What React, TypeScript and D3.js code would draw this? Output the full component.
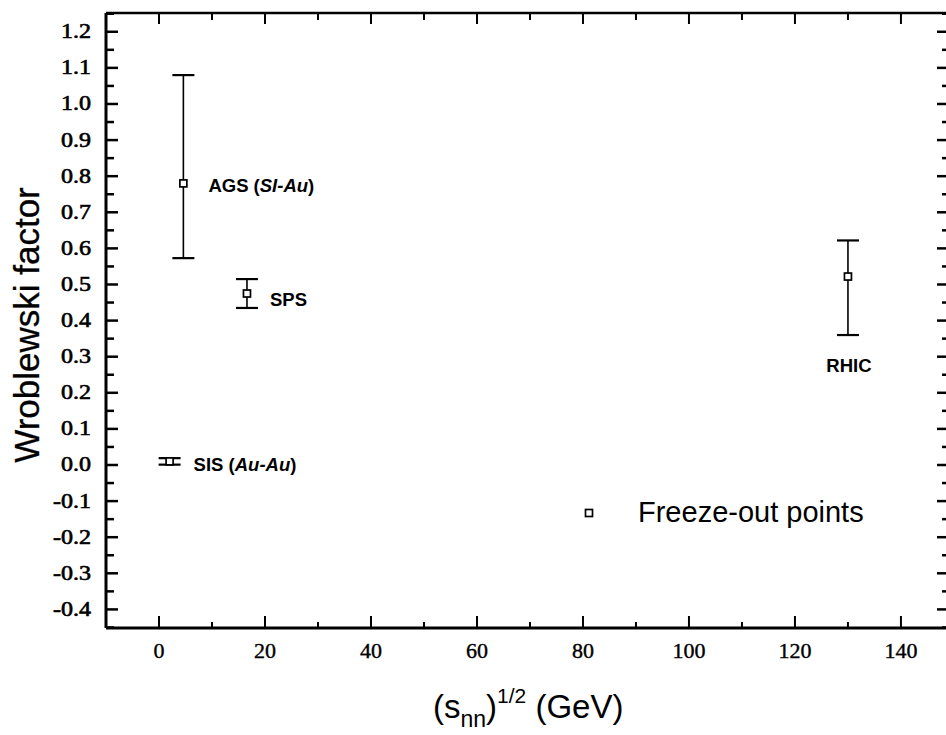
import React from 'react';
import * as d3 from 'd3';

// ---- data ----
const systems = ['SIS', 'AGS', 'SPS', 'RHIC'];
const sqrtS = [2.0, 4.6, 16.6, 130];
const wroblewski = [0.01, 0.78, 0.475, 0.522];
const errLow = [0.001, 0.573, 0.435, 0.36];
const errHigh = [0.019, 1.08, 0.515, 0.622];
// label text segments: [text, italic]
const labelParts: [string, boolean][][] = [
  [['SIS (', false], ['Au-Au', true], [')', false]],
  [['AGS (', false], ['SI-Au', true], [')', false]],
  [['SPS', false]],
  [['RHIC', false]],
];
const xMajorTicks = [0, 20, 40, 60, 80, 100, 120, 140];
const xMinorTicks = [-10, 10, 30, 50, 70, 90, 110, 130];
const yMajorTickLabels = ['-0.4', '-0.3', '-0.2', '-0.1', '0.0', '0.1', '0.2', '0.3', '0.4', '0.5', '0.6', '0.7', '0.8', '0.9', '1.0', '1.1', '1.2'];
const legendLabel = 'Freeze-out points';
const xTitle = ['(s', 'nn', ')', '1/2', ' (GeV)'];
const yTitle = 'Wroblewski factor';

// ---- layout ----
const W = 946, H = 735;
const L = 106, R = 946, T = 13, B = 628;
const labelOffsets = [
  { dx: 24, dy: 10, anchor: 'start' },
  { dx: 25, dy: 9, anchor: 'start' },
  { dx: 23, dy: 12, anchor: 'start' },
  { dx: 1, dy: 95, anchor: 'middle' },
];

export default function App() {
  const x = d3.scaleLinear().domain([-10, 148.5]).range([L, R]);
  const y = d3.scaleLinear().domain([-0.4515, 1.252]).range([B, T]);

  const yMinor: number[] = [];
  for (let i = -9; i <= 25; i++) if (i % 2 !== 0) yMinor.push(i * 0.05);
  const yMajor = yMajorTickLabels.map((s) => +s);
  const topTicks = d3.range(-10, 150, 10);

  const sq = 7;
  const cap = 11;
  const serif = '"Liberation Serif", "Times New Roman", serif';
  const sans = '"Liberation Sans", Arial, Helvetica, sans-serif';

  return (
    <svg width={W} height={H} style={{ position: 'absolute', left: 0, top: 0, background: '#fff' }}>
      <rect x={0} y={0} width={W} height={H} fill="#fff" />
      {/* frame */}
      <line x1={L} y1={T} x2={R} y2={T} stroke="#000" strokeWidth={2.5} />
      <line x1={L} y1={T} x2={L} y2={B} stroke="#000" strokeWidth={3} />
      <line x1={L} y1={B} x2={R} y2={B} stroke="#000" strokeWidth={3} />

      {/* left ticks */}
      {yMajor.map((v, i) => (
        <line key={'lm' + i} x1={L} x2={L + 12} y1={y(v)} y2={y(v)} stroke="#000" strokeWidth={2.5} />
      ))}
      {yMinor.map((v, i) => (
        <line key={'ln' + i} x1={L} x2={L + 8} y1={y(v)} y2={y(v)} stroke="#000" strokeWidth={2.5} />
      ))}
      {/* right ticks */}
      {yMajor.map((v, i) => (
        <line key={'rm' + i} x1={R} x2={R - 9} y1={y(v)} y2={y(v)} stroke="#000" strokeWidth={2.5} />
      ))}
      {yMinor.map((v, i) => (
        <line key={'rn' + i} x1={R} x2={R - 4} y1={y(v)} y2={y(v)} stroke="#000" strokeWidth={2.5} />
      ))}
      {/* bottom ticks */}
      {xMajorTicks.map((v, i) => (
        <line key={'bm' + i} x1={x(v)} x2={x(v)} y1={B} y2={B - 12} stroke="#000" strokeWidth={2} />
      ))}
      {xMinorTicks.map((v, i) => (
        <line key={'bn' + i} x1={x(v)} x2={x(v)} y1={B} y2={B - 6} stroke="#000" strokeWidth={2} />
      ))}
      {/* top ticks */}
      {topTicks.map((v, i) => (
        <line key={'tt' + i} x1={x(v)} x2={x(v)} y1={T} y2={T + (v % 20 === 0 ? 11 : 7)} stroke="#000" strokeWidth={2} />
      ))}

      {/* y tick labels */}
      {yMajorTickLabels.map((s, i) => (
        <text key={'yl' + i} transform={`translate(${L - 15},${y(+s) + 6.5}) scale(1.2,1)`} textAnchor="end"
          fontFamily={serif} fontSize={20} fill="#000" stroke="#000" strokeWidth={0.6}>{s}</text>
      ))}
      {/* x tick labels */}
      {xMajorTicks.map((v, i) => (
        <text key={'xl' + i} x={x(v)} y={B + 30} textAnchor="middle" fontFamily={serif} fontSize={22}
          fill="#000" stroke="#000" strokeWidth={0.4}>{v}</text>
      ))}

      {/* error bars + points */}
      {systems.map((s, i) => {
        const cx = x(sqrtS[i]);
        return (
          <g key={s}>
            <line x1={cx} x2={cx} y1={y(errLow[i])} y2={y(errHigh[i])} stroke="#000" strokeWidth={1.6} />
            <line x1={cx - cap} x2={cx + cap} y1={y(errHigh[i])} y2={y(errHigh[i])} stroke="#000" strokeWidth={2.2} />
            <line x1={cx - cap} x2={cx + cap} y1={y(errLow[i])} y2={y(errLow[i])} stroke="#000" strokeWidth={2.2} />
            <rect x={cx - sq / 2} y={y(wroblewski[i]) - sq / 2} width={sq} height={sq} fill="#fff" stroke="#000" strokeWidth={1.7} />
          </g>
        );
      })}
      {/* point labels */}
      {systems.map((s, i) => {
        const o = labelOffsets[i];
        return (
          <text key={'pl' + s} x={x(sqrtS[i]) + o.dx} y={y(wroblewski[i]) + o.dy} textAnchor={o.anchor as any}
            fontFamily={sans} fontWeight="bold" fontSize={18.5} fill="#000">
            {labelParts[i].map(([t, it], j) => (
              <tspan key={j} fontStyle={it ? 'italic' : 'normal'}>{t}</tspan>
            ))}
          </text>
        );
      })}

      {/* legend */}
      <rect x={585.5} y={509.5} width={sq} height={sq} fill="#fff" stroke="#000" strokeWidth={1.7} />
      <text x={638} y={522} fontFamily={sans} fontSize={29} fill="#000">{legendLabel}</text>

      {/* axis titles */}
      <text x={433} y={718} fontFamily={sans} fontSize={33} fill="#000">
        <tspan>{xTitle[0]}</tspan>
        <tspan fontSize={23} dy={9}>{xTitle[1]}</tspan>
        <tspan dy={-9}>{xTitle[2]}</tspan>
        <tspan fontSize={21} dy={-15}>{xTitle[3]}</tspan>
        <tspan dy={15}>{xTitle[4]}</tspan>
      </text>
      <text transform={`translate(39,325) rotate(-90)`} textAnchor="middle" fontFamily={sans} fontSize={35} fill="#000"
        stroke="#000" strokeWidth={0.3}>{yTitle}</text>
    </svg>
  );
}
